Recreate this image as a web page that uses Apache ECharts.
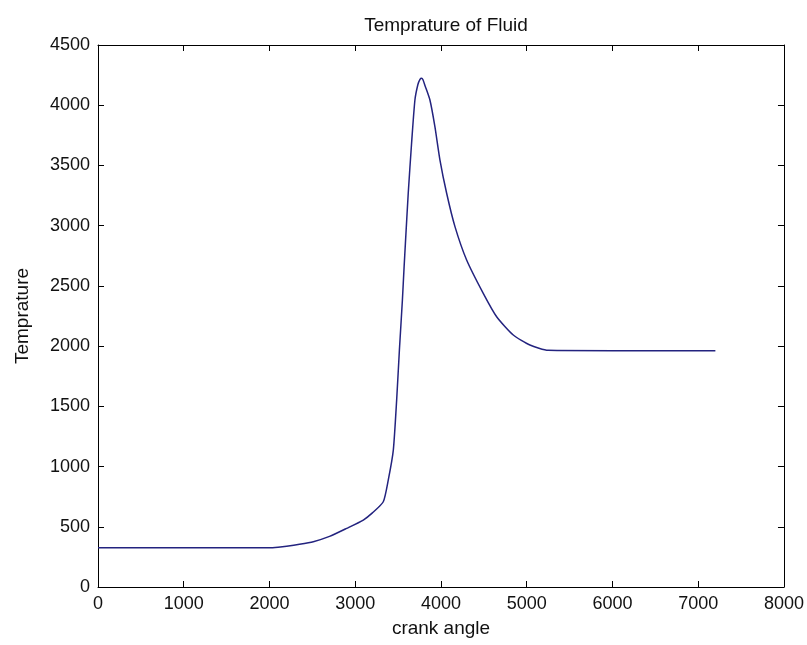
<!DOCTYPE html>
<html>
<head>
<meta charset="utf-8">
<script src="https://cdn.jsdelivr.net/npm/echarts@6/dist/echarts.min.js"></script>
<style>html,body{margin:0;padding:0;background:#fff}#c{width:807px;height:645px}</style>
</head>
<body>
<div id="c"></div>
<script>
const crankAngle = [0,1000,2000,2100,2200,2350,2511,2700,2900,3094,3200,3327,3385,3444,3483,3515,3550,3570,3585,3618,3657,3696,3730,3755,3774,3790,3815,3871,3929,3988,4066,4163,4299,4493,4649,4843,5037,5251,6000,7200];
const temperature = [325,325,325,330,338,354,376,420,487,556,615,708,888,1137,1553,1968,2383,2660,2853,3269,3684,4043,4170,4215,4224,4212,4160,4043,3822,3545,3269,2992,2715,2438,2244,2092,2009,1965,1962,1962];
const xTicks = [0,1000,2000,3000,4000,5000,6000,7000,8000];
const yTicks = [0,500,1000,1500,2000,2500,3000,3500,4000,4500];

const font = '"Liberation Sans", Arial, sans-serif';
function axisCommon() {
  return {
    axisLine: {show: true, onZero: false, lineStyle: {color: '#000', width: 1}},
    axisTick: {show: true, inside: true, length: 6, lineStyle: {color: '#000'}},
    splitLine: {show: false}
  };
}
const plain = v => String(v);
const chart = echarts.init(document.getElementById('c'), null, {renderer: 'canvas'});
chart.setOption({
  animation: false,
  backgroundColor: '#fff',
  title: {text: 'Temprature of Fluid', left: 441, top: 11, textAlign: 'center',
    textStyle: {fontFamily: font, fontSize: 19, fontWeight: 'normal', color: '#111'}},
  grid: {left: 98, right: 23, top: 45, bottom: 58},
  xAxis: [
    Object.assign(axisCommon(), {type: 'value', min: xTicks[0], max: xTicks[xTicks.length-1], interval: 1000, position: 'bottom',
      name: 'crank angle', nameLocation: 'middle', nameGap: 32,
      nameTextStyle: {fontFamily: font, fontSize: 19, color: '#111'},
      axisLabel: {margin: 8, fontFamily: font, fontSize: 18, color: '#111', formatter: plain}}),
    Object.assign(axisCommon(), {type: 'value', min: xTicks[0], max: xTicks[xTicks.length-1], interval: 1000, position: 'top',
      axisLabel: {show: false}})
  ],
  yAxis: [
    Object.assign(axisCommon(), {type: 'value', min: yTicks[0], max: yTicks[yTicks.length-1], interval: 500, position: 'left',
      name: 'Temprature', nameLocation: 'middle', nameGap: 66,
      nameTextStyle: {fontFamily: font, fontSize: 19, color: '#111'},
      axisLabel: {margin: 8, fontFamily: font, fontSize: 18, color: '#111', formatter: plain}}),
    Object.assign(axisCommon(), {type: 'value', min: yTicks[0], max: yTicks[yTicks.length-1], interval: 500, position: 'right',
      axisLabel: {show: false}})
  ],
  series: [{
    type: 'line', xAxisIndex: 0, yAxisIndex: 0,
    data: crankAngle.map((x, i) => [x, temperature[i]]),
    showSymbol: false, smooth: 0.2,
    lineStyle: {color: '#23237f', width: 1.5}
  }]
});
</script>
</body>
</html>
